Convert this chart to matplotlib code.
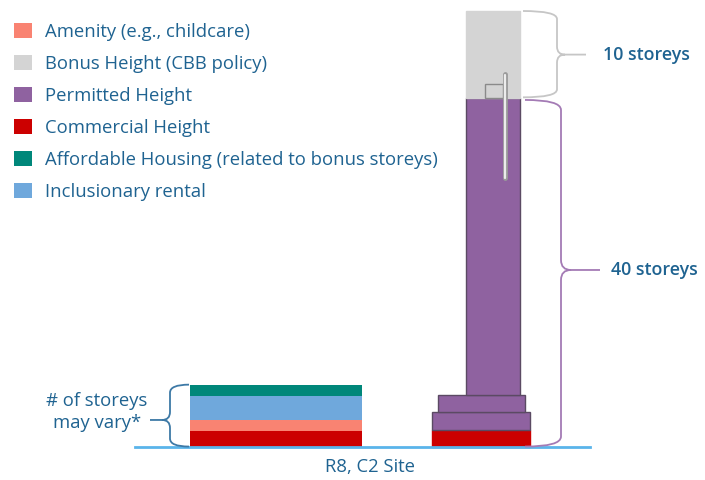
import matplotlib

matplotlib.use('Agg')
import matplotlib.pyplot as plt
from matplotlib.patches import Patch, Rectangle, PathPatch
from matplotlib.path import Path

plt.rcParams['font.family'] = ['Open Sans', 'DejaVu Sans']

# ── data (storeys) ──────────────────────────────────────────────────────
LEGEND_LABELS = ['Amenity (e.g., childcare)', 'Bonus Height (CBB policy)', 'Permitted Height',
                 'Commercial Height', 'Affordable Housing (related to bonus storeys)',
                 'Inclusionary rental']
LEGEND_KEYS = ['amenity', 'bonus', 'permitted', 'commercial', 'affordable', 'inclusionary']

# left stack, bottom → top (number of storeys may vary)
LEFT_KEYS = ['commercial', 'amenity', 'inclusionary', 'affordable']
LEFT_STOREYS = [1.85, 1.2, 2.75, 1.35]

# right tower, bottom → top
TOWER_KEYS = ['commercial', 'permitted', 'permitted', 'permitted', 'bonus']
TOWER_STOREYS = [2, 2, 2, 34, 10]
PERMITTED_STOREYS = 40
BONUS_STOREYS = 10

COLORS = {
    'amenity': '#f98372', 'bonus': '#d4d4d4', 'permitted': '#8f62a0',
    'commercial': '#cc0000', 'affordable': '#00877a', 'inclusionary': '#6fa8dc',
}
TXT = '#1f6391'
FS = 13.3
PX = 8.72            # pixels per storey
GROUND_PX = 447

fig = plt.figure(figsize=(7.05, 4.8), dpi=100)
ax = fig.add_axes([0, 0, 1, 1])
ax.set_xlim(0, 705)
ax.set_ylim(-(480 - GROUND_PX) / PX, GROUND_PX / PX)
ax.axis('off')

# ── left stack ──────────────────────────────────────────────────────────
bottom = 0
for key, h in zip(LEFT_KEYS, LEFT_STOREYS):
    ax.bar(276, h, width=172, bottom=bottom, color=COLORS[key], linewidth=0)
    bottom += h
left_top = bottom

# ── right tower ─────────────────────────────────────────────────────────
tower_x = [(432, 530), (432, 530), (438, 525), (466, 520), (466, 520)]
bottom = 0
for key, h, (x0, x1) in zip(TOWER_KEYS, TOWER_STOREYS, tower_x):
    edge = '#5b4a63' if key == 'permitted' else COLORS[key]
    ax.bar((x0 + x1) / 2, h, width=x1 - x0, bottom=bottom, color=COLORS[key],
           edgecolor=edge, linewidth=1.0, zorder=2)
    bottom += h
# rooftop box + rod
ax.add_patch(Rectangle((485, PERMITTED_STOREYS), 18, 1.6, fill=False,
                       edgecolor='#8a8a8a', linewidth=1.0, zorder=3))
ax.plot([505, 505], [30.8, 42.8], color='#9a9a9a', lw=3.5, solid_capstyle='round', zorder=3)
ax.plot([505, 505], [30.9, 42.7], color='#ececec', lw=1.6, solid_capstyle='round', zorder=4)

# ground line
ax.plot([135, 590], [0, 0], color='#5ab4ea', lw=2, zorder=5)


# ── braces ──────────────────────────────────────────────────────────────
def brace(xa, xs, xt, y0, y1, ym, color, r=8, lw=1.3):
    """curly brace: arms at xa, spine at xs, tip reaching xt (all px); y in storeys"""
    ry = r / PX
    s = 1 if xt > xs else -1
    verts = [(xa, y0), (xs, y0), (xs, y0 - ry),
             (xs, ym + ry),
             (xs, ym), (xs + s * r, ym),
             (xt, ym)]
    codes = [Path.MOVETO, Path.CURVE3, Path.CURVE3, Path.LINETO,
             Path.CURVE3, Path.CURVE3, Path.LINETO]
    verts += [(xs + s * r, ym), (xs, ym), (xs, ym - ry),
              (xs, y1 + ry),
              (xs, y1), (xa, y1)]
    codes += [Path.MOVETO, Path.CURVE3, Path.CURVE3, Path.LINETO,
              Path.CURVE3, Path.CURVE3]
    ax.add_patch(PathPatch(Path(verts, codes), fill=False, edgecolor=color, lw=lw, zorder=6))


top_all = PERMITTED_STOREYS + BONUS_STOREYS
brace(523, 557, 586, top_all, PERMITTED_STOREYS + 0.1, PERMITTED_STOREYS + 5, '#c6c6c6')
brace(525, 561, 600, PERMITTED_STOREYS - 0.2, 0.05, 20.3, '#a47bb5', r=10)
brace(189, 170, 150, left_top, 0.05, 3.1, '#3d79a6', r=8)

ax.text(603, PERMITTED_STOREYS + 5, f'{BONUS_STOREYS} storeys', color=TXT, fontsize=FS - 0.5,
        fontweight='semibold', va='center', ha='left')
ax.text(611, 20.3, f'{PERMITTED_STOREYS} storeys', color=TXT, fontsize=FS - 0.5,
        fontweight='semibold', va='center', ha='left')
ax.text(97, 4.0, '# of storeys\nmay vary*', color=TXT, fontsize=FS, ha='center',
        va='center', linespacing=1.3)
ax.text(370, -2.3, 'R8, C2 Site', color=TXT, fontsize=FS, ha='center', va='center')

# ── legend ──────────────────────────────────────────────────────────────
handles = [Patch(facecolor=COLORS[k], edgecolor='none') for k in LEGEND_KEYS]
leg = ax.legend(handles, LEGEND_LABELS, loc='upper left', bbox_to_anchor=(0.009, 0.968),
                frameon=False, fontsize=FS, labelcolor=TXT, handlelength=1.0,
                handleheight=0.9, handletextpad=0.7, labelspacing=0.76, borderaxespad=0)

fig.savefig('out.png', dpi=100)
